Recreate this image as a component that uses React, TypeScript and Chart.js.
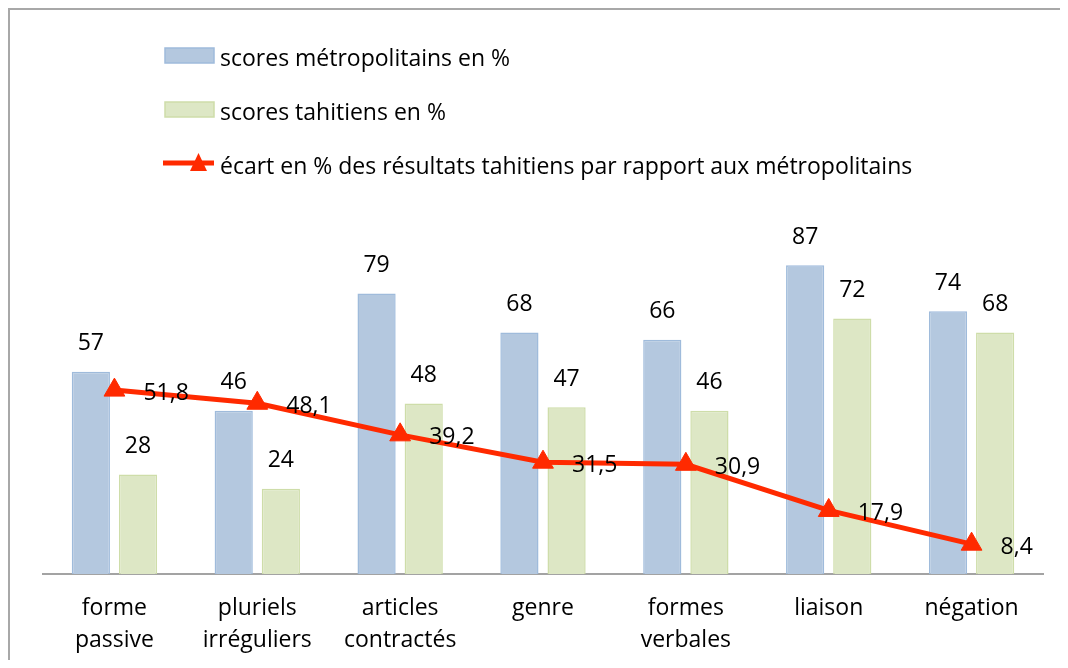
import React, { useEffect, useRef } from "react";
import { Chart, registerables } from "chart.js";

Chart.register(...registerables);

const categories: string[][] = [
  ["forme", "passive"],
  ["pluriels", "irréguliers"],
  ["articles", "contractés"],
  ["genre"],
  ["formes", "verbales"],
  ["liaison"],
  ["négation"],
];
const metroScores = [57, 46, 79, 68, 66, 87, 74];
const tahitiScores = [28, 24, 48, 47, 46, 72, 68];
const gapPercent = [51.8, 48.1, 39.2, 31.5, 30.9, 17.9, 8.4];
const seriesNames = [
  "scores métropolitains en %",
  "scores tahitiens en %",
  "écart en % des résultats tahitiens par rapport aux métropolitains",
];

const FONT = "'Open Sans', 'Noto Sans', sans-serif";
const FS = 23;
const BLUE = "#b4c8df";
const BLUE_B = "#9fbbdb";
const GREEN = "#dde7c5";
const GREEN_B = "#cedda9";
const RED = "#ff2a00";

const framePlugin = {
  id: "frame",
  beforeDraw(chart: any) {
    const { ctx, width, height } = chart;
    ctx.save();
    ctx.fillStyle = "#ffffff";
    ctx.fillRect(0, 0, width, height);
    ctx.fillStyle = "#a8a8a8";
    ctx.fillRect(0, 0, width, 2);
    ctx.fillRect(0, 0, 2, height);
    ctx.restore();
  },
};

const legendPlugin = {
  id: "customLegend",
  afterDraw(chart: any) {
    const { ctx } = chart;
    const ds = chart.data.datasets;
    ctx.save();
    ctx.font = `${FS}px ${FONT}`;
    ctx.textBaseline = "alphabetic";
    ctx.textAlign = "left";
    ds.forEach((d: any, i: number) => {
      const base = 58 + i * 54;
      if (d.type === "line") {
        ctx.strokeStyle = d.borderColor;
        ctx.lineWidth = 5;
        ctx.beginPath();
        ctx.moveTo(155, base - 11);
        ctx.lineTo(206, base - 11);
        ctx.stroke();
        ctx.fillStyle = d.borderColor;
        ctx.beginPath();
        ctx.moveTo(182, base - 3);
        ctx.lineTo(190.5, base - 21);
        ctx.lineTo(199, base - 3);
        ctx.closePath();
        ctx.fill();
      } else {
        ctx.fillStyle = d.backgroundColor;
        ctx.strokeStyle = d.borderColor;
        ctx.lineWidth = 1.5;
        ctx.fillRect(157, base - 18, 49, 15);
        ctx.strokeRect(157, base - 18, 49, 15);
      }
      ctx.fillStyle = "#000000";
      ctx.fillText(d.label, 212, base);
    });
    ctx.restore();
  },
};

const labelsPlugin = {
  id: "valueLabels",
  afterDatasetsDraw(chart: any) {
    const { ctx } = chart;
    ctx.save();
    ctx.font = `${FS}px ${FONT}`;
    ctx.fillStyle = "#000000";
    ctx.textBaseline = "middle";
    chart.data.datasets.forEach((d: any, i: number) => {
      const meta = chart.getDatasetMeta(i);
      meta.data.forEach((el: any, j: number) => {
        const v = d.data[j];
        const txt = String(v).replace(".", ",");
        if (d.type === "line") {
          ctx.textAlign = "left";
          ctx.fillText(txt, el.x + 29, el.y + 3);
        } else {
          ctx.textAlign = "center";
          ctx.fillText(txt, el.x, el.y - 28);
        }
      });
    });
    ctx.restore();
  },
};

export default function App() {
  const ref = useRef<HTMLCanvasElement | null>(null);
  useEffect(() => {
    if (!ref.current) return;
    const chart = new Chart(ref.current, {
      type: "bar",
      data: {
        labels: categories as any,
        datasets: [
          {
            type: "bar",
            label: seriesNames[0],
            data: metroScores,
            backgroundColor: BLUE,
            borderColor: BLUE_B,
            borderWidth: 1.5,
            categoryPercentage: 0.66,
            barPercentage: 0.81,
            order: 2,
          },
          {
            type: "bar",
            label: seriesNames[1],
            data: tahitiScores,
            backgroundColor: GREEN,
            borderColor: GREEN_B,
            borderWidth: 1.5,
            categoryPercentage: 0.66,
            barPercentage: 0.81,
            order: 2,
          },
          {
            type: "line",
            label: seriesNames[2],
            data: gapPercent,
            borderColor: RED,
            backgroundColor: RED,
            borderWidth: 5,
            pointStyle: "triangle",
            pointRadius: 12,
            pointBorderWidth: 1,
            pointBackgroundColor: RED,
            pointBorderColor: RED,
            tension: 0,
            order: 0,
          } as any,
        ],
      },
      options: {
        animation: false,
        responsive: false,
        devicePixelRatio: 1,
        layout: { padding: { top: 211, left: 35, right: 25, bottom: 0 } },
        plugins: {
          legend: { display: false },
          tooltip: { enabled: false },
        },
        scales: {
          x: {
            grid: { display: false, drawTicks: false },
            border: { display: true, color: "#a3a3a3", width: 2 },
            ticks: {
              color: "#000000",
              padding: 18,
              font: { family: FONT, size: FS, lineHeight: 1.4 },
              maxRotation: 0,
              autoSkip: false,
            },
            afterFit: (s: any) => {
              s.height = 86;
            },
          },
          y: {
            display: false,
            min: 0,
            max: 100,
          },
        },
      },
      plugins: [framePlugin, legendPlugin, labelsPlugin],
    });
    return () => chart.destroy();
  }, []);
  return (
    <canvas
      ref={ref}
      width={1060}
      height={652}
      style={{ display: "block", width: 1060, height: 652 }}
    />
  );
}
